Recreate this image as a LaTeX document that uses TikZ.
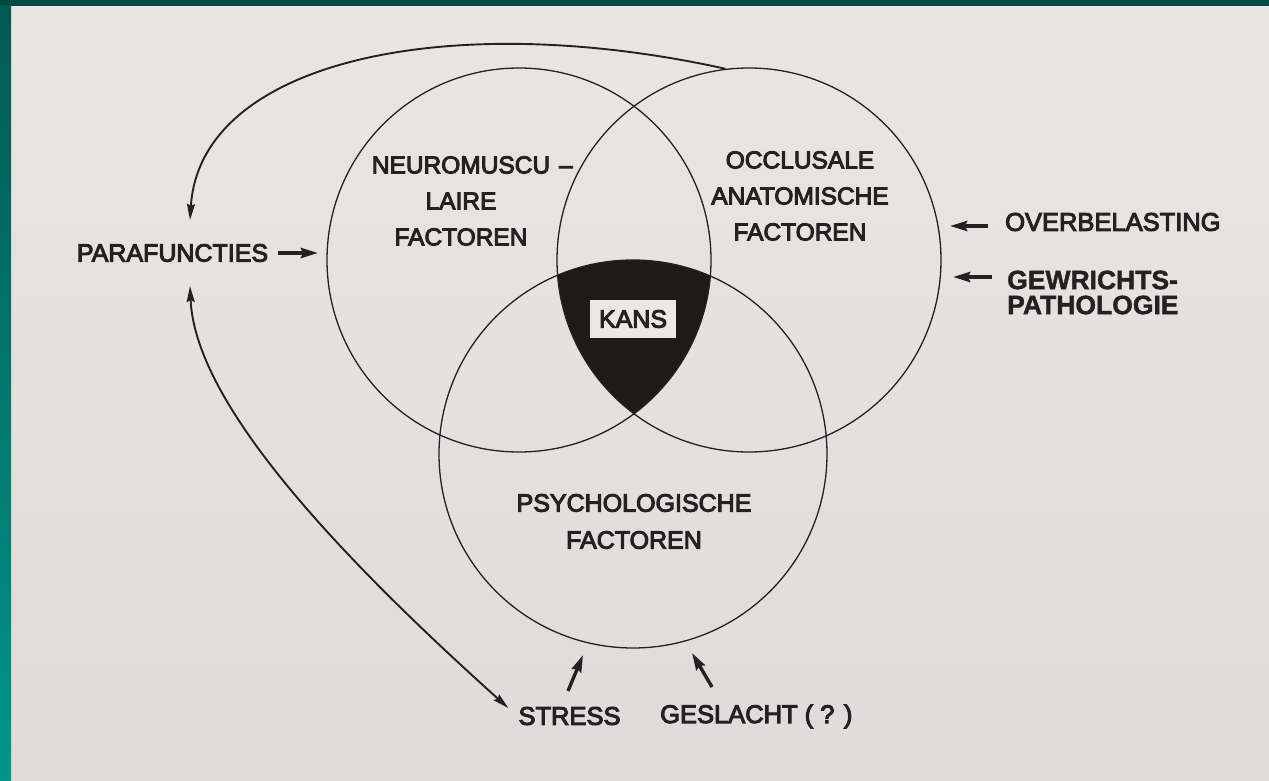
\documentclass[tikz,border=0pt]{standalone}
\usepackage{fontspec}
\setmainfont{Liberation Sans}
\newfontfamily\lettering{Liberation Sans}[FakeBold=4]
\newfontfamily\heavy{Liberation Sans Bold}[FakeBold=1.5]
\usetikzlibrary{arrows.meta}
\definecolor{papertop}{HTML}{E9E6E2}
\definecolor{paperbot}{HTML}{DDDCDA}
\definecolor{paper}{HTML}{EAE8E5}
\definecolor{tealdark}{HTML}{004A46}
\definecolor{tealtop}{HTML}{005A54}
\definecolor{tealbot}{HTML}{009686}
\definecolor{ink}{HTML}{232121}
\definecolor{kansfill}{HTML}{1E1A19}
\begin{document}
\begin{tikzpicture}[x=1pt,y=-1pt,
  venn/.style={circle, draw=ink, line width=1.3pt, inner sep=0pt},
  lbl/.style={inner sep=0pt, text=ink, align=center, font=\lettering\fontsize{24.5}{36}\selectfont},
  fat/.style={draw=ink, line width=3.4pt, -{Stealth[length=17pt,width=10pt,inset=2pt]}},
  thinarrow/.style={draw=ink, line width=1.9pt, -{Stealth[length=16pt,width=8pt,inset=2pt]}},
  kansbox/.style={fill=paper, text=ink, inner sep=0pt, minimum width=86pt, minimum height=38pt, font=\lettering\fontsize{25}{30}\selectfont}
]
\useasboundingbox (0,0) rectangle (1269,781);
% background
\shade[top color=papertop, bottom color=paperbot] (0,0) rectangle (1269,781);
\fill[tealdark] (0,0) rectangle (1269,6);
\shade[top color=tealtop, bottom color=tealbot] (0,6) rectangle (11,781);

% circle centres
\coordinate (Lc) at (519,260);
\coordinate (Rc) at (749,260);
\coordinate (Bc) at (633,454);

% KANS region
\begin{scope}
  \clip (Lc) circle (192pt);
  \clip (Rc) circle (192pt);
  \fill[kansfill] (Bc) circle (194pt);
\end{scope}

% circles
\node[venn, minimum size=384pt] (lc) at (Lc) {};
\node[venn, minimum size=384pt] (rc) at (Rc) {};
\node[venn, minimum size=388pt] (bc) at (Bc) {};

% labels
\node[lbl] (neuro) at (461,201) {NEUROMUSCU\rlap{\hspace{9pt}–}\\LAIRE\\FACTOREN};
\node[lbl] (occl) at (800,196) {OCCLUSALE\\ANATOMISCHE\\FACTOREN};
\node[lbl, font=\lettering\fontsize{25}{37}\selectfont] (psych) at (634,521.5) {PSYCHOLOGISCHE\\FACTOREN};
\node[kansbox] (kans) at (633,319) {KANS};
\node[lbl, font=\lettering\fontsize{25}{30}\selectfont] (para) at (172.5,253) {PARAFUNCTIES};
\node[lbl, anchor=west, font=\lettering\fontsize{25.5}{30}\selectfont] (overb) at (1005,222) {OVERBELASTING};
\node[lbl, anchor=west, align=left, font=\heavy\fontsize{26.5}{25}\selectfont] (gewr) at (1007,292.5) {GEWRICHTS-\\PATHOLOGIE};
\node[lbl, font=\lettering\fontsize{25.5}{30}\selectfont] (stress) at (569.5,716) {STRESS};
\node[lbl, anchor=base west, font=\lettering\fontsize{25.5}{30}\selectfont] (gesl) at (660,723) {GESLACHT ( ? )};

% arrow tips on the circles
\coordinate (paTip) at (318,253);
\coordinate (obTip) at (950,226);
\coordinate (gwTip) at (953,277);
\coordinate (stTip) at (583,655);
\coordinate (geTip) at (692,653);

% short arrows
\draw[fat, shorten <=10pt] (para.east) -- (paTip);
\draw[fat] ([shift={(-17pt,-4pt)}]overb.west) -- (obTip);
\draw[fat] ([shift={(-15pt,15.5pt)}]gewr.west) -- (gwTip);
\draw[fat] ([shift={(-1.5pt,25pt)}]stress.center) -- (stTip);
\draw[fat] ([shift={(52pt,36pt)}]gesl.base west) -- (geTip);

% feedback curves
\draw[thinarrow] (rc.97) .. controls (450,8) and (200,60) .. ([shift={(17.5pt,24pt)}]para.north);
\draw[thinarrow, {Stealth[length=16pt,width=8pt,inset=2pt]}-{Stealth[length=16pt,width=8pt,inset=2pt]}]
  ([shift={(17.5pt,-24pt)}]para.south) .. controls (195,400) and (328,546) .. ([shift={(-10pt,8pt)}]stress.west);
\end{tikzpicture}
\end{document}
